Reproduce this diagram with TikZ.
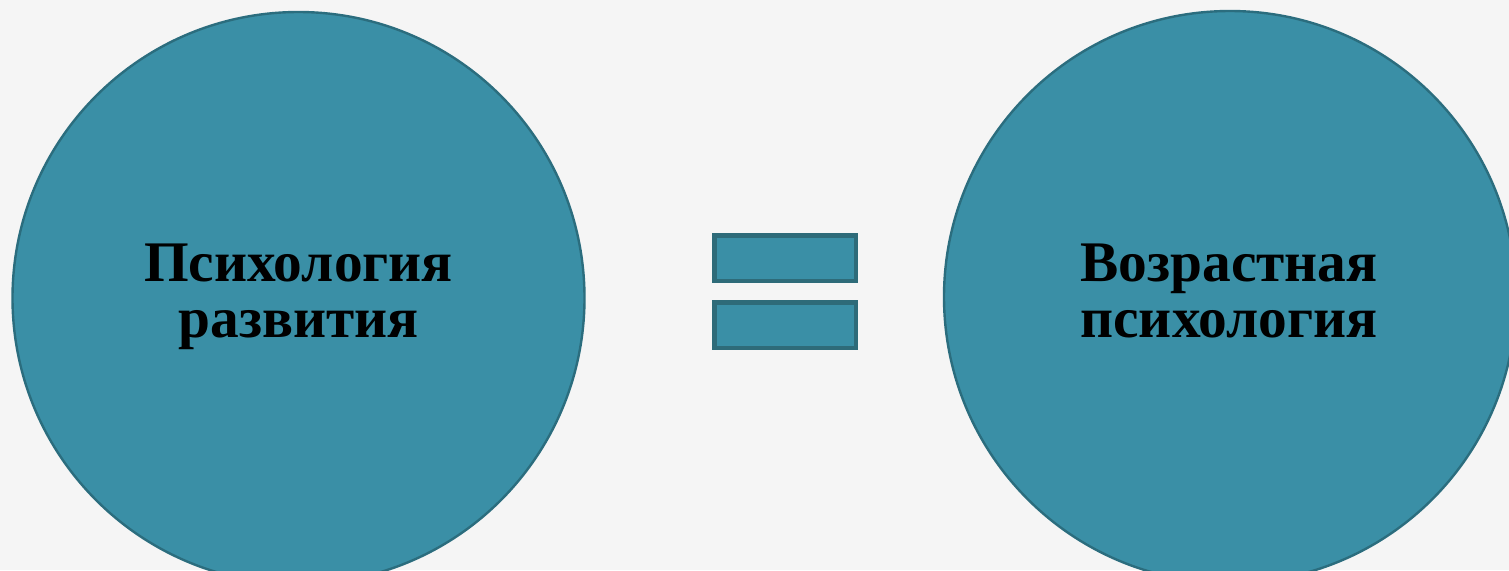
\documentclass[tikz,border=0pt]{standalone}
\usepackage{fontspec}
\setmainfont{Liberation Serif}
\definecolor{bgc}{HTML}{F5F5F5}
\definecolor{tealfill}{HTML}{3A8FA6}
\definecolor{tealline}{HTML}{2B6D7E}
\definecolor{barline}{HTML}{2E6B79}
\begin{document}
\begin{tikzpicture}[x=0.5pt,y=-0.5pt,
  bigcirc/.style={circle,fill=tealfill,draw=tealline,line width=1.2pt,minimum size=286pt,inner sep=0pt},
  lbl/.style={align=center,inner sep=0pt,text=black,font=\fontsize{28.7}{28}\selectfont\bfseries},
  bar/.style={rectangle,fill=tealfill,draw=barline,line width=2.25pt,minimum width=70.75pt,minimum height=22.75pt,inner sep=0pt}]
\useasboundingbox (0,0) rectangle (1509,570);
\clip (0,0) rectangle (1509,570);
\fill[bgc] (0,0) rectangle (1509,570);
\node[bigcirc] (L) at (298.5,298) {};
\node[bigcirc] (R) at (1230,297) {};
\node[lbl] (Lt) at (298.5,297) {Психология\\развития};
\node[lbl] (Rt) at (1229,291) {Возрастная\\психология};
\node[bar] (b1) at (785,258) {};
\node[bar] (b2) at (785,325) {};
\end{tikzpicture}
\end{document}
